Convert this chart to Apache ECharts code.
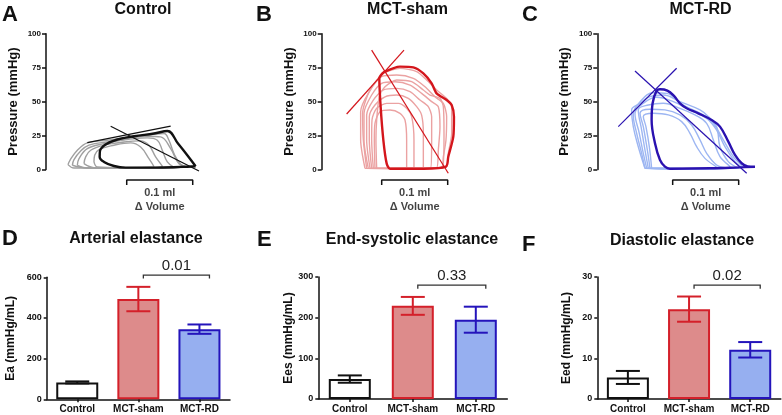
<!DOCTYPE html>
<html><head><meta charset="utf-8">
<script src="https://cdn.jsdelivr.net/npm/echarts@6/dist/echarts.min.js"></script>
<style>html,body{margin:0;padding:0;background:#fff}#c{width:782px;height:415px}</style>
</head><body><div id="c"></div>
<script>
// ================= DATA =================
const panelLetters = ['A','B','C','D','E','F'];
const topTitles = ['Control','MCT-sham','MCT-RD'];
const bottomTitles = ['Arterial elastance','End-systolic elastance','Diastolic elastance'];
const pressureTicks = [0,25,50,75,100];

// P-V loops: [delta volume (uL), pressure (mmHg)]
const controlLoopsLight = [
  [[33.3,3.6],[36.3,6.8],[47.5,14.2],[62.6,19.6],[92.9,21.6],[128.3,24.0],[163.6,26.0],[178.8,26.5],[186.3,21.6],[193.9,11.7],[204,3.9],[214.1,1.6],[163.6,1.1],[87.9,1.1],[42.4,1.1],[33.3,3.6]],
  [[39.9,3.1],[42.4,7.3],[52.5,13.7],[65.1,17.9],[92.9,20.3],[123.2,22.1],[153.5,23.3],[168.7,21.6],[176.2,14.2],[183.8,5.6],[193.9,1.6],[138.4,1.1],[62.6,1.1],[39.9,3.1]],
  [[57.6,4.3],[60.1,9.3],[67.7,14.2],[87.9,17.9],[118.2,20.3],[143.4,21.1],[156,17.9],[166.1,9.3],[176.2,2.4],[138.4,1.4],[72.7,1.4],[57.6,4.3]],
  [[72.7,5.6],[73.7,10.5],[80.3,14.7],[103,17.9],[128.3,19.6],[143.4,16.6],[156,8.0],[163.6,1.9],[113.1,1.4],[77.8,1.9],[72.7,5.6]],
  [[47.5,3.1],[50,8.0],[62.6,15.4],[87.9,19.1],[118.2,22.1],[153.5,24.5],[173.7,24.0],[188.9,15.4],[201.5,4.3],[214.1,1.9],[138.4,1.1],[62.6,1.1],[47.5,3.1]]
];
const controlLoopMain = [[226.7,2.4],[214.1,10.5],[200,19.1],[184,28.4],[163.6,26.5],[133.3,24.5],[108.1,22.1],[90.4,18.4],[81.8,13.7],[81.3,9.3],[87.9,5.6],[103,2.6],[120.7,1.4],[163.6,1.4],[204,1.9],[226.7,2.4]];
const controlESPVR = [[62.6,19.8],[188.9,31.9]];
const controlEaLine = [[98,31.9],[231.8,-1.1]];

const shamLoopsLight = [
  [[68.1,0.8],[63.1,21.7],[62.0,41.4],[73.2,58.6],[93.4,70.8],[118.6,74.5],[143.9,72.1],[159.0,65.9],[174.2,58.6],[189.3,52.4],[196.9,46.3],[196.9,26.6],[191.8,11.9],[189.3,2.1],[128.7,0.6],[68.1,0.8]],
  [[65.6,0.8],[59.0,21.7],[59.0,42.6],[70.6,56.1],[90.8,68.4],[113.6,69.6],[138.8,67.2],[156.5,61.0],[171.6,53.6],[184.3,48.7],[189.3,38.9],[188.3,21.7],[184.3,9.4],[181.7,1.6],[128.7,0.6],[65.6,0.8]],
  [[70.6,0.8],[64.1,21.7],[64.1,41.4],[75.7,54.9],[90.8,63.5],[111.0,64.7],[133.8,62.2],[151.4,56.1],[166.6,50.0],[176.7,46.3],[179.2,31.5],[176.7,14.4],[174.2,1.3],[70.6,0.8]],
  [[73.2,0.8],[68.1,21.7],[68.1,40.1],[78.2,51.2],[93.4,58.6],[113.6,59.8],[133.8,57.3],[148.9,51.2],[161.5,46.3],[166.6,38.9],[166.6,21.7],[165.1,1.3],[73.2,0.8]],
  [[75.7,0.8],[72.1,21.7],[72.1,38.9],[80.7,47.5],[95.9,53.6],[113.6,54.9],[131.2,52.4],[143.9,46.3],[151.4,40.1],[154.0,26.6],[154.0,1.3],[75.7,0.8]],
  [[78.2,0.8],[75.7,21.7],[76.2,36.5],[83.3,45.1],[98.4,48.7],[116.1,48.7],[128.7,45.1],[136.3,38.9],[139.8,21.7],[139.8,1.3],[78.2,0.8]],
  [[80.7,0.8],[79.7,21.7],[80.7,34.0],[88.3,42.6],[103.5,43.8],[118.6,41.4],[126.2,36.5],[128.7,21.7],[128.7,1.3],[80.7,0.8]],
  [[83.3,0.8],[82.2,21.7],[83.3,36.5],[87.3,53.6],[95.9,61.0],[113.6,65.9],[136.3,64.7],[154.0,58.6],[164.1,54.9],[179.2,52.4],[184.3,46.3],[185.3,26.6],[183.2,1.3],[83.3,0.8]]
];
const shamLoopMain = [[93.4,71.6],[118.6,75.8],[138.8,75.3],[154,70.8],[166.6,63.5],[174.1,56.1],[189.3,51.2],[196.9,47.5],[200.4,38.9],[199.4,24.2],[191.8,9.4],[188.3,2.1],[154,0.6],[103.5,0.6],[98.4,4.5],[93.4,21.7],[89.3,46.3],[87.3,67.2],[93.4,71.6]];
const shamESPVR = [[37.8,40.9],[124.7,88.0]];
const shamEaLine = [[75.7,88],[191.8,-2.8]];

const rdLoopsLight = [
  [[72.2,0.9],[67.2,11.9],[59.6,26.7],[54.5,40.2],[67.2,51.2],[84.9,56.6],[105.1,56.1],[130.3,47.5],[160.6,40.2],[175.8,34.0],[190.9,21.8],[206.1,9.5],[221.2,1.6],[145.5,0.6],[72.2,0.9]],
  [[74.8,0.9],[69.7,11.9],[63.6,26.7],[57.1,41.4],[69.7,48.8],[89.9,53.2],[115.2,50.0],[140.4,43.9],[165.7,37.7],[180.8,29.1],[193.4,16.8],[208.6,5.8],[218.7,1.4],[145.5,0.6],[74.8,0.9]],
  [[77.3,0.9],[72.2,14.4],[67.2,29.1],[62.1,43.9],[77.3,47.5],[100,48.8],[125.3,45.1],[148,40.2],[165.7,34.0],[175.8,21.8],[185.9,9.5],[201,2.1],[145.5,0.6],[77.3,0.9]],
  [[79.8,0.9],[75.8,14.4],[69.7,31.6],[64.7,41.4],[79.8,44.4],[102.5,43.9],[125.3,40.2],[142.9,32.8],[155.6,21.8],[165.7,11.9],[180.8,3.3],[196,1.1],[145.5,0.6],[79.8,0.9]],
  [[82.3,0.9],[78.8,16.8],[73.7,31.6],[69.7,39.0],[84.9,41.4],[107.6,40.2],[127.8,35.3],[140.4,26.7],[150.5,16.8],[163.1,8.2],[180.8,1.6],[145.5,0.6],[82.3,0.9]],
  [[72.2,0.9],[62.1,16.8],[54.5,31.6],[52.0,43.9],[64.7,48.8],[79.8,53.7],[100,54.9],[125.3,50],[155.6,43.9],[168.2,39.0],[180.8,31.6],[185.9,16.8],[198.5,5.8],[213.6,1.1],[145.5,0.6],[72.2,0.9]]
];
const rdLoopMain = [[238.9,2.0],[216.1,1.6],[170.7,0.9],[110.1,0.6],[102.5,2.1],[95,7.0],[87.4,19.3],[82.3,36.5],[83.8,48.8],[89.9,58.1],[95,59.1],[106.1,58.1],[116.2,54.2],[125.3,48.8],[135.4,45.1],[153,41.4],[173.2,36.5],[185.9,31.6],[198.5,20.5],[208.6,10.7],[218.7,4.6],[228,2.2],[238.9,2.0]];
const rdESPVR = [[31.8,31.6],[120.2,74.6]];
const rdEaLine = [[57.1,72.6],[226.3,-2.8]];

const scaleBarStart = [122.3, 90.9, 114.2];   // uL
const scaleBarLength = 100;                   // uL = 0.1 ml
const scaleBarText = '0.1 ml';
const volumeAxisName = '\u0394 Volume';

// Bar charts
const groups = ['Control','MCT-sham','MCT-RD'];
const eaMean = [83, 493, 345];   const eaSem = [5, 60, 23];
const eesMean = [49, 229, 195];  const eesSem = [9, 22, 32];
const eedMean = [5.3, 22.1, 12.1]; const eedSem = [1.6, 3.1, 1.9];
const eaTicks = [0,200,400,600];
const eesTicks = [0,100,200,300];
const eedTicks = [0,10,20,30];
const pValues = ['0.01','0.33','0.02'];
const pBracketLevel = [611, 280, 28];

// ================= STYLE / LAYOUT =================
const FONT = '"Liberation Sans", Arial, Helvetica, sans-serif';
const INK = '#111';
const topGrid = [{left:46,top:33.8},{left:321.7,top:33.8},{left:597.3,top:33.8}];
const botGrid = [{left:46.7,top:277.3,width:183.3},{left:318.3,top:277,width:189},{left:597.3,top:277,width:183.5}];
const barFill = ['#ffffff','#dd8b8b','#96aff0'];
const barBorder = ['#111111','#d4202a','#2414bb'];
const topPanels = [
  {light:controlLoopsLight, main:controlLoopMain, espvr:controlESPVR, ea:controlEaLine, lc:'#a0a0a0', mc:'#111111', smooth:0.4},
  {light:shamLoopsLight, main:shamLoopMain, espvr:shamESPVR, ea:shamEaLine, lc:'#eba2a2', mc:'#d4161c', smooth:0.25},
  {light:rdLoopsLight, main:rdLoopMain, espvr:rdESPVR, ea:rdEaLine, lc:'#9db6f2', mc:'#2a12b0', smooth:0.4}
];
const barPanels = [
  {mean:eaMean, sem:eaSem, ticks:eaTicks, name:'Ea (mmHg/mL)', gap:30},
  {mean:eesMean, sem:eesSem, ticks:eesTicks, name:'Ees (mmHg/mL)', gap:21},
  {mean:eedMean, sem:eedSem, ticks:eedTicks, name:'Eed (mmHg/mL)', gap:25}
];

const grid = [], xAxis = [], yAxis = [], series = [];
topPanels.forEach((p, k) => {
  grid.push({left:topGrid[k].left, top:topGrid[k].top, width:165, height:135.7});
  xAxis.push({gridIndex:k, type:'value', min:0, max:250, show:false});
  yAxis.push({gridIndex:k, type:'value', min:pressureTicks[0], max:pressureTicks[pressureTicks.length-1],
    interval:pressureTicks[1]-pressureTicks[0], position:'left',
    axisLine:{show:true, onZero:false, lineStyle:{color:INK, width:1.5}},
    axisTick:{show:true, length:4, lineStyle:{color:INK, width:1.5}},
    axisLabel:{fontSize:8, fontWeight:'bold', color:INK, margin:5, fontFamily:FONT},
    splitLine:{show:false},
    name:'Pressure (mmHg)', nameLocation:'middle', nameGap:26,
    nameTextStyle:{fontSize:13, fontWeight:'bold', color:INK, fontFamily:FONT}});
  p.light.forEach(loop => series.push({type:'line', xAxisIndex:k, yAxisIndex:k, data:loop, smooth:p.smooth,
    showSymbol:false, silent:true, clip:false, lineStyle:{color:p.lc, width:1.4}}));
  series.push({type:'line', xAxisIndex:k, yAxisIndex:k, data:p.main, smooth:p.smooth, showSymbol:false, silent:true,
    clip:false, lineStyle:{color:p.mc, width:2.4}});
  [p.espvr, p.ea].forEach(l => series.push({type:'line', xAxisIndex:k, yAxisIndex:k, data:l, showSymbol:false,
    silent:true, clip:false, lineStyle:{color:p.mc, width:1.2}}));
  const s = scaleBarStart[k], L = scaleBarLength;
  series.push({type:'line', xAxisIndex:k, yAxisIndex:k, showSymbol:false, silent:true, clip:false,
    data:[[s,-11.4],[s,-7.7],[s+L,-7.7],[s+L,-11.4]], lineStyle:{color:INK, width:1.5}});
  series.push({type:'scatter', xAxisIndex:k, yAxisIndex:k, symbolSize:0, silent:true, clip:false,
    data:[{value:[s+L/2,-17.6], name:scaleBarText},{value:[s+L/2,-27.6], name:volumeAxisName}],
    label:{show:true, position:'inside', formatter:d=>d.name, color:INK, fontWeight:'bold', fontFamily:FONT,
      fontSize:11}});
});

barPanels.forEach((p, j) => {
  const gi = j + 3;
  grid.push({left:botGrid[j].left, top:botGrid[j].top, width:botGrid[j].width, height:122});
  xAxis.push({gridIndex:gi, type:'category', data:groups,
    axisLine:{show:true, lineStyle:{color:INK, width:1.5}},
    axisTick:{show:true, length:3, alignWithLabel:true, lineStyle:{color:INK, width:1.5}},
    axisLabel:{interval:0, fontSize:10, fontWeight:'bold', color:INK, margin:5, fontFamily:FONT}});
  yAxis.push({gridIndex:gi, type:'value', min:p.ticks[0], max:p.ticks[p.ticks.length-1], interval:p.ticks[1]-p.ticks[0],
    axisLine:{show:true, onZero:false, lineStyle:{color:INK, width:1.5}},
    axisTick:{show:true, length:3, lineStyle:{color:INK, width:1.5}},
    axisLabel:{fontSize:9, fontWeight:'bold', color:INK, margin:5, fontFamily:FONT},
    splitLine:{show:false},
    name:p.name, nameLocation:'middle', nameGap:p.gap,
    nameTextStyle:{fontSize:12, fontWeight:'bold', color:INK, fontFamily:FONT}});
  series.push({type:'bar', xAxisIndex:gi, yAxisIndex:gi, barWidth:42, silent:true, z:2,
    data:groups.map((g,i)=>({value:p.mean[i], itemStyle:{color:barFill[i], borderColor:barBorder[i], borderWidth:2}}))});
  series.push({type:'custom', xAxisIndex:gi, yAxisIndex:gi, silent:true, z:5, clip:false, encode:{x:0, y:1},
    data:groups.map((g,i)=>[i, p.mean[i], p.sem[i]]),
    renderItem:(params, api) => {
      const i = api.value(0), m = api.value(1), e = api.value(2);
      const t = api.coord([i, m+e]), b = api.coord([i, m-e]);
      const st = {stroke:barBorder[i], lineWidth:2};
      const hw = 12;
      return {type:'group', children:[
        {type:'line', shape:{x1:t[0], y1:t[1], x2:b[0], y2:b[1]}, style:st},
        {type:'line', shape:{x1:t[0]-hw, y1:t[1], x2:t[0]+hw, y2:t[1]}, style:st},
        {type:'line', shape:{x1:b[0]-hw, y1:b[1], x2:b[0]+hw, y2:b[1]}, style:st}]};
    }});
  series.push({type:'custom', xAxisIndex:gi, yAxisIndex:gi, silent:true, clip:false, z:5, encode:{x:0, y:2},
    data:[[1, 2, pBracketLevel[j]]],
    renderItem:(params, api) => {
      const a = api.coord([api.value(0), api.value(2)]);
      const b = api.coord([api.value(1), api.value(2)]);
      const x1 = a[0]+5, x2 = b[0]+10, y = a[1];
      return {type:'group', children:[
        {type:'polyline', shape:{points:[[x1,y+3.5],[x1,y],[x2,y],[x2,y+3.5]]}, style:{stroke:'#333', lineWidth:1.3, fill:null}},
        {type:'text', x:(x1+x2)/2, y:y-9, style:{text:pValues[j], font:'15px ' + FONT, fill:'#222', align:'center', verticalAlign:'middle'}}]};
    }});
});

const graphic = [];
const letterPos = [[2,15],[256,15],[522,15],[2,239],[257,240],[522,245]];
panelLetters.forEach((t,i)=>graphic.push({type:'text', x:letterPos[i][0], y:letterPos[i][1], silent:true,
  style:{text:t, font:'bold 22px ' + FONT, fill:INK, align:'left', verticalAlign:'middle'}}));
const topTitleX = [143, 407.5, 700.5];
topTitles.forEach((t,i)=>graphic.push({type:'text', x:topTitleX[i], y:10, silent:true,
  style:{text:t, font:'bold 16px ' + FONT, fill:INK, align:'center', verticalAlign:'middle'}}));
const botTitleX = [136, 412, 682], botTitleY = [239, 240, 241];
bottomTitles.forEach((t,i)=>graphic.push({type:'text', x:botTitleX[i], y:botTitleY[i], silent:true,
  style:{text:t, font:'bold 16px ' + FONT, fill:INK, align:'center', verticalAlign:'middle'}}));

const chart = echarts.init(document.getElementById('c'), null, {renderer:'canvas'});
chart.setOption({animation:false, backgroundColor:'#ffffff', grid, xAxis, yAxis, series, graphic});
</script></body></html>
